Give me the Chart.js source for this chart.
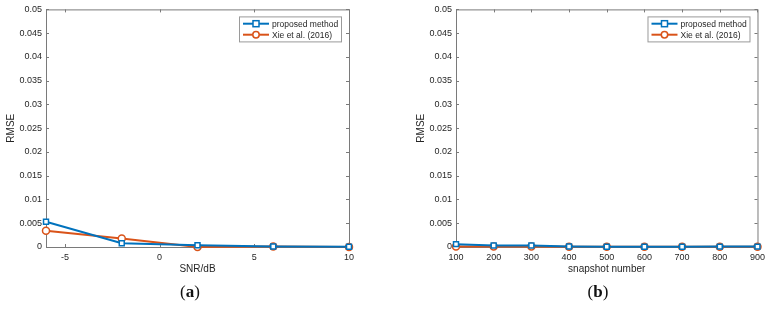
<!DOCTYPE html>
<html>
<head>
<meta charset="utf-8">
<script src="https://cdn.jsdelivr.net/npm/chart.js@4.4.1/dist/chart.umd.min.js"></script>
<style>
  body { margin: 0; background: #fff; width: 770px; height: 313px; overflow: hidden; position: relative; }
  .panel { position: absolute; top: 0; width: 385px; height: 313px; }
  .cap { position: absolute; top: 282px; width: 60px; text-align: center; font: 17px "Liberation Serif", serif; color: #111; }
</style>
</head>
<body>
<div class="panel" style="left:0"><canvas id="chartA" width="385" height="313"></canvas></div>
<div class="panel" style="left:385px"><canvas id="chartB" width="385" height="313"></canvas></div>
<div class="cap" style="left:160px">(<b>a</b>)</div>
<div class="cap" style="left:568px">(<b>b</b>)</div>

<script>
// series names
const seriesNames = ['proposed method', 'Xie et al. (2016)'];

// (a) RMSE vs SNR
const snrDb = [-6, -2, 2, 6, 10];
const snrProposed = [0.0053, 0.0008, 0.00035, 0.0001, 0.00005];
const snrXie = [0.0034, 0.0018, 0.00002, 0.0001, 0.00002];
const snrTicks = [-5, 0, 5, 10];

// (b) RMSE vs snapshot number
const snapshots = [100, 200, 300, 400, 500, 600, 700, 800, 900];
const snapProposed = [0.0006, 0.0003, 0.0003, 0.0001, 0.00005, 0.00005, 0.00006, 0.00008, 0.00008];
const snapXie = [0.0001, 0.0001, 0.0001, 0.00005, 0.00003, 0.00003, 0.00003, 0.00003, 0.00003];
const snapTicks = [100, 200, 300, 400, 500, 600, 700, 800, 900];

const rmseMax = 0.05;
const rmseStep = 0.005;

const blue = '#0072BD';
const orange = '#D95319';
const axisColor = '#7a7a7a';
const textColor = '#262626';

Chart.defaults.font.family = '"Liberation Sans", Arial, sans-serif';
Chart.defaults.font.size = 9;
Chart.defaults.color = textColor;

// matlab-ish box, inward ticks and legend inside the plot
const matlabFrame = {
  id: 'matlabFrame',
  beforeDatasetsDraw(chart) {
    const ctx = chart.ctx, a = chart.chartArea;
    const xs = chart.scales.x, ys = chart.scales.y;
    ctx.save();
    ctx.strokeStyle = axisColor;
    ctx.lineWidth = 1;
    ctx.strokeRect(a.left + 0.5, a.top + 0.5, a.right - a.left, a.bottom - a.top);
    ctx.beginPath();
    xs.ticks.forEach(t => {
      const px = Math.round(xs.getPixelForValue(t.value)) + 0.5;
      ctx.moveTo(px, a.bottom); ctx.lineTo(px, a.bottom - 3);
      ctx.moveTo(px, a.top); ctx.lineTo(px, a.top + 3);
    });
    ys.ticks.forEach(t => {
      const py = Math.round(ys.getPixelForValue(t.value)) + 0.5;
      ctx.moveTo(a.left, py); ctx.lineTo(a.left + 3, py);
      ctx.moveTo(a.right, py); ctx.lineTo(a.right - 3, py);
    });
    ctx.stroke();
    ctx.restore();
  },
  afterDatasetsDraw(chart) {
    const ctx = chart.ctx, a = chart.chartArea;
    const w = 102, h = 25;
    const x0 = a.right - 8 - w, y0 = a.top + 7;
    ctx.save();
    ctx.fillStyle = '#fff';
    ctx.fillRect(x0, y0, w, h);
    ctx.strokeStyle = '#9a9a9a';
    ctx.lineWidth = 1;
    ctx.strokeRect(x0 + 0.5, y0 + 0.5, w, h);
    chart.data.datasets.forEach((ds, i) => {
      const cy = y0 + 7.3 + i * 11;
      ctx.strokeStyle = ds.borderColor;
      ctx.lineWidth = 2;
      ctx.beginPath();
      ctx.moveTo(x0 + 4, cy); ctx.lineTo(x0 + 30, cy);
      ctx.stroke();
      ctx.lineWidth = 1.5;
      ctx.fillStyle = '#fff';
      if (ds.pointStyle === 'rect') {
        ctx.fillRect(x0 + 14, cy - 3, 6, 6);
        ctx.strokeRect(x0 + 14, cy - 3, 6, 6);
      } else {
        ctx.beginPath();
        ctx.arc(x0 + 17, cy, 3.2, 0, Math.PI * 2);
        ctx.fill(); ctx.stroke();
      }
      ctx.fillStyle = textColor;
      ctx.font = '8.5px "Liberation Sans", Arial, sans-serif';
      ctx.textBaseline = 'middle';
      ctx.fillText(ds.label, x0 + 33, cy + 0.5);
    });
    ctx.restore();
  }
};

function makeChart(id, xs, proposed, xie, xTicks, xMin, xMax, xTitle, padding) {
  const toPts = (arr) => arr.map((v, i) => ({ x: xs[i], y: v }));
  return new Chart(document.getElementById(id), {
    type: 'line',
    data: {
      datasets: [
        {
          label: seriesNames[0], data: toPts(proposed),
          borderColor: blue, backgroundColor: '#fff', borderWidth: 2,
          pointStyle: 'rect', pointRadius: 3.5, pointBorderWidth: 1.5,
          pointBackgroundColor: '#fff', tension: 0, clip: false
        },
        {
          label: seriesNames[1], data: toPts(xie),
          borderColor: orange, backgroundColor: '#fff', borderWidth: 2,
          pointStyle: 'circle', pointRadius: 3.5, pointBorderWidth: 1.5,
          pointBackgroundColor: '#fff', tension: 0, clip: false
        }
      ]
    },
    options: {
      responsive: false,
      animation: false,
      layout: { padding: padding },
      plugins: { legend: { display: false }, tooltip: { enabled: false } },
      scales: {
        x: {
          type: 'linear', min: xMin, max: xMax,
          afterBuildTicks: (s) => { s.ticks = xTicks.map(v => ({ value: v })); },
          afterFit: (s) => { s.height = 28; },
          grid: { display: false, drawTicks: false },
          border: { display: false },
          ticks: { padding: 5, maxRotation: 0, color: textColor, callback: (v) => String(v) },
          title: { display: true, text: xTitle, color: textColor, font: { size: 10 }, padding: 0 }
        },
        y: {
          min: 0, max: rmseMax,
          ticks: { stepSize: rmseStep, padding: 4, color: textColor, callback: (v) => String(+v.toFixed(3)) },
          afterFit: (s) => { s.width = 46; },
          grid: { display: false, drawTicks: false },
          border: { display: false },
          title: { display: true, text: 'RMSE', color: textColor, font: { size: 10 }, padding: { top: 5, bottom: 0 } }
        }
      }
    },
    plugins: [matlabFrame]
  });
}

makeChart('chartA', snrDb, snrProposed, snrXie, snrTicks, -6, 10, 'SNR/dB',
  { left: 0, right: 36, top: 8, bottom: 38 });
makeChart('chartB', snapshots, snapProposed, snapXie, snapTicks, 100, 900, 'snapshot number',
  { left: 25, right: 12, top: 8, bottom: 38 });
</script>
</body>
</html>
